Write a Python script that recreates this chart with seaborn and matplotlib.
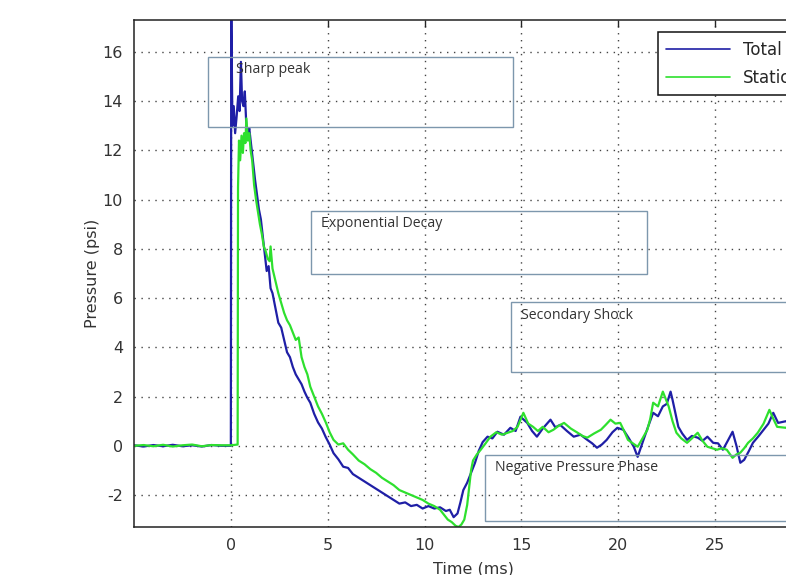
import pandas as pd
import matplotlib.pyplot as plt
from matplotlib.lines import Line2D
from matplotlib.patches import Rectangle
import seaborn as sns

# ── DATA ─────────────────────────────────────────────────
total_time = [
    -5.0, -4.5, -4.0, -3.5, -3.0, -2.5, -2.0, -1.5, -1.0, -0.5,
    0.0, 0.02, 0.08, 0.15, 0.22, 0.3, 0.38, 0.45, 0.52, 0.58,
    0.65, 0.72, 0.8, 0.88, 0.95, 1.05, 1.15, 1.25, 1.35, 1.45,
    1.55, 1.65, 1.75, 1.85, 1.95, 2.05, 2.15, 2.3, 2.45, 2.6,
    2.75, 2.9, 3.05, 3.2, 3.35, 3.5, 3.65, 3.8, 3.95, 4.1,
    4.3, 4.5, 4.7, 4.9, 5.1, 5.3, 5.55, 5.8, 6.05, 6.3,
    6.6, 6.9, 7.2, 7.5, 7.8, 8.1, 8.4, 8.7, 9.0, 9.3,
    9.6, 9.9, 10.2, 10.5, 10.8, 11.1, 11.3, 11.5, 11.7, 11.85,
    12.0, 12.2, 12.4, 12.6, 12.8, 13.0, 13.25, 13.5, 13.76, 14.1,
    14.43, 14.7, 14.95, 15.3, 15.55, 15.8, 16.1, 16.5, 16.75, 17.0,
    17.35, 17.7, 18.05, 18.4, 18.65, 18.9, 19.15, 19.4, 19.7, 19.95,
    20.26, 20.55, 20.8, 21.0, 21.3, 21.55, 21.8, 22.05, 22.3, 22.5,
    22.7, 22.8, 23.1, 23.3, 23.55, 23.8, 24.1, 24.35, 24.6, 24.9,
    25.15, 25.4, 25.65, 25.9, 26.1, 26.3, 26.5, 26.75, 26.95, 27.25,
    27.5, 27.75, 28.0, 28.25, 28.66, 29.0, 29.4, 29.7, 30.0,
]
total_psi = [
    0.02, -0.03, 0.03, -0.02, 0.04, -0.02, 0.02, -0.03, 0.03, 0.0,
    0.0, 18.0, 13.0, 13.8, 12.7, 13.4, 14.2, 13.6, 15.6, 14.0,
    13.8, 14.4, 13.0, 12.6, 12.9, 12.2, 11.5, 10.8, 10.2, 9.6,
    9.2, 8.5, 7.8, 7.1, 7.3, 6.4, 6.2, 5.6, 5.0, 4.8,
    4.3, 3.8, 3.6, 3.2, 2.9, 2.7, 2.5, 2.2, 1.95, 1.75,
    1.3, 0.95, 0.7, 0.35, 0.05, -0.3, -0.55, -0.85, -0.9, -1.15,
    -1.3, -1.45, -1.6, -1.75, -1.9, -2.05, -2.2, -2.35, -2.3, -2.45,
    -2.4, -2.55, -2.45, -2.55, -2.5, -2.65, -2.6, -2.9, -2.75, -2.3,
    -1.8, -1.5, -1.1, -0.7, -0.2, 0.15, 0.37, 0.3, 0.57, 0.45,
    0.73, 0.6, 1.18, 0.93, 0.6, 0.37, 0.7, 1.06, 0.75, 0.85,
    0.6, 0.37, 0.45, 0.24, 0.1, -0.08, 0.05, 0.24, 0.55, 0.73,
    0.65, 0.3, -0.04, -0.45, 0.24, 0.8, 1.34, 1.2, 1.6, 1.7,
    2.2, 1.87, 0.77, 0.5, 0.24, 0.4, 0.33, 0.2, 0.37, 0.12,
    0.1, -0.16, 0.2, 0.57, 0.0, -0.69, -0.57, -0.2, 0.12, 0.4,
    0.65, 0.9, 1.34, 0.93, 1.0, 0.85, 1.1, 0.9, 1.0,
]

static_time = [
    -5.0, -4.5, -4.0, -3.5, -3.0, -2.5, -2.0, -1.5, -1.0, -0.5,
    0.0, 0.35, 0.37, 0.42, 0.48, 0.55, 0.62, 0.68, 0.75, 0.8,
    0.88, 0.95, 1.02, 1.1, 1.2, 1.3, 1.4, 1.5, 1.6, 1.7,
    1.8, 1.9, 2.0, 2.05, 2.15, 2.3, 2.45, 2.6, 2.75, 2.9,
    3.05, 3.2, 3.35, 3.5, 3.65, 3.8, 3.95, 4.1, 4.3, 4.5,
    4.7, 4.9, 5.1, 5.3, 5.55, 5.8, 6.05, 6.3, 6.6, 6.9,
    7.2, 7.5, 7.8, 8.1, 8.4, 8.7, 9.0, 9.3, 9.6, 9.9,
    10.2, 10.5, 10.8, 11.0, 11.2, 11.4, 11.6, 11.75, 11.9, 12.05,
    12.2, 12.3, 12.4, 12.5, 12.7, 12.9, 13.15, 13.4, 13.7, 14.0,
    14.3, 14.55, 14.8, 15.1, 15.35, 15.6, 15.85, 16.1, 16.4, 16.65,
    16.9, 17.2, 17.55, 17.9, 18.15, 18.4, 18.75, 19.1, 19.35, 19.6,
    19.85, 20.1, 20.3, 20.5, 20.75, 21.0, 21.25, 21.5, 21.65, 21.8,
    22.05, 22.3, 22.6, 22.8, 23.0, 23.25, 23.55, 23.8, 24.1, 24.35,
    24.6, 24.85, 25.1, 25.35, 25.6, 25.9, 26.1, 26.3, 26.5, 26.7,
    26.95, 27.2, 27.5, 27.8, 28.0, 28.2, 28.66, 29.0, 29.4, 29.7, 30.0,
]
static_psi = [
    0.0, 0.03, -0.02, 0.04, -0.03, 0.02, 0.05, -0.02, 0.03, 0.02,
    0.02, 0.05, 10.5, 12.4, 11.6, 12.6, 11.9, 12.7, 12.3, 13.3,
    12.4, 12.7, 12.0, 11.6, 10.6, 10.0, 9.5, 9.0, 8.6, 8.1,
    7.9, 7.6, 7.5, 8.1, 7.2, 6.7, 6.2, 5.8, 5.4, 5.1,
    4.9, 4.6, 4.3, 4.4, 3.6, 3.2, 2.9, 2.4, 2.0, 1.6,
    1.3, 0.95, 0.55, 0.24, 0.05, 0.1, -0.16, -0.35, -0.6, -0.75,
    -0.95, -1.1, -1.3, -1.45, -1.6, -1.8, -1.9, -2.0, -2.1, -2.2,
    -2.35, -2.45, -2.6, -2.8, -3.0, -3.1, -3.25, -3.3, -3.2, -3.0,
    -2.4, -1.7, -1.0, -0.6, -0.35, -0.16, 0.1, 0.37, 0.55, 0.45,
    0.53, 0.6, 0.77, 1.34, 0.9, 0.77, 0.6, 0.77, 0.55, 0.65,
    0.8, 0.93, 0.7, 0.53, 0.4, 0.33, 0.5, 0.65, 0.85, 1.06,
    0.9, 0.93, 0.6, 0.24, 0.1, -0.04, 0.3, 0.65, 1.1, 1.75,
    1.6, 2.2, 1.6, 1.0, 0.53, 0.3, 0.12, 0.3, 0.53, 0.2,
    -0.04, -0.1, -0.16, -0.1, -0.16, -0.49, -0.35, -0.28, -0.1, 0.12,
    0.3, 0.53, 0.9, 1.46, 1.1, 0.77, 0.73, 0.9, 0.8, 1.0, 0.9,
]

series_labels = ["Total", "Static"]
x_ticks = [0, 5, 10, 15, 20, 25]
y_ticks = [-2, 0, 2, 4, 6, 8, 10, 12, 14, 16]

# phase call-out boxes: (t0, t1, p_low, p_high, text_t, text_p)
phase_labels = ["Sharp peak", "Exponential Decay", "Secondary Shock",
                "Negative Pressure Phase"]
phase_boxes = [
    (-1.2, 14.55, 12.97, 15.8, 0.26, 15.28),
    (4.12, 21.5, 6.99, 9.55, 4.64, 9.02),
    (14.48, 32.0, 3.0, 5.85, 15.0, 5.28),
    (13.1, 32.0, -3.05, -0.37, 13.66, -0.89),
]

df = pd.concat([
    pd.DataFrame({"time": total_time, "pressure": total_psi, "signal": "Total"}),
    pd.DataFrame({"time": static_time, "pressure": static_psi, "signal": "Static"}),
], ignore_index=True)

# ── STYLE ────────────────────────────────────────────────
sns.set_theme(style="white")
plt.rcParams.update({
    "font.family": ["DejaVu Sans"],
    "axes.edgecolor": "#222222",
    "axes.linewidth": 1.1,
    "axes.unicode_minus": False,   # plain hyphen like the original
})

colors = {"Total": "#1f1fa6", "Static": "#2ee02e"}

fig = plt.figure(figsize=(7.86, 5.75), dpi=100)
# axes run past the right edge of the picture, as in the cropped original
ax = fig.add_axes([134 / 786, 48 / 575, 678 / 786, 507 / 575])

sns.lineplot(data=df, x="time", y="pressure", hue="signal",
             palette=colors, hue_order=series_labels,
             sort=False, estimator=None, linewidth=1.6,
             legend=False, ax=ax)

ax.set_xlim(-5, 30)
ax.set_ylim(-3.3, 17.3)
ax.set_xticks(x_ticks)
ax.set_yticks(y_ticks)
ax.grid(True, color="#444444", linestyle=(0, (1, 4)), linewidth=1.0)
ax.tick_params(direction="in", length=5, width=1, top=True, right=True,
               labelsize=11.5, labelcolor="#333333", pad=8)
ax.set_xlabel("Time (ms)", fontsize=11.5, color="#333333", labelpad=6)
ax.set_ylabel("Pressure (psi)", fontsize=11.5, color="#333333", labelpad=2)

handles = [Line2D([], [], color=colors[s], linewidth=1.2) for s in series_labels]
leg = ax.legend(handles, series_labels, loc="upper left",
                bbox_to_anchor=(0.773, 0.976), borderaxespad=0,
                fancybox=False, framealpha=1, edgecolor="#111111",
                fontsize=12, handlelength=3.8, labelspacing=0.6,
                borderpad=0.5)
leg.get_frame().set_linewidth(1.1)

# call-out boxes pasted over the plot
for label, (t0, t1, p0, p1, tx, ty) in zip(phase_labels, phase_boxes):
    ax.add_patch(Rectangle((t0, p0), t1 - t0, p1 - p0, fill=False,
                           edgecolor="#7d97ad", linewidth=1.0,
                           clip_on=False, zorder=5))
    ax.text(tx, ty, label, fontsize=10.2, family=["Open Sans", "DejaVu Sans"],
            color="#333333", va="center", ha="left", zorder=6)

plt.savefig("out.png", dpi=100)
plt.close()
